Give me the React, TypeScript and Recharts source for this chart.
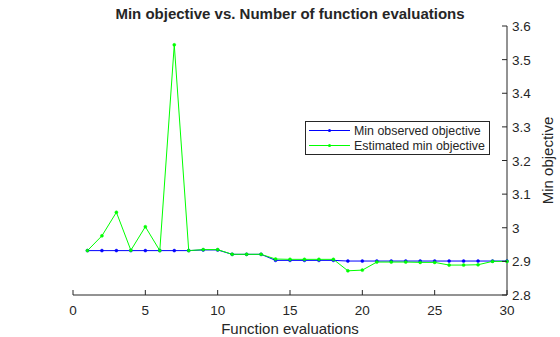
import { LineChart, Line, XAxis, YAxis, Legend } from 'recharts';

// Function evaluation index
const evals = [1, 2, 3, 4, 5, 6, 7, 8, 9, 10, 11, 12, 13, 14, 15, 16, 17, 18, 19, 20, 21, 22, 23, 24, 25, 26, 27, 28, 29, 30];

// Min observed objective (blue)
const minObserved = [
  2.932, 2.932, 2.932, 2.932, 2.932, 2.932, 2.932, 2.932, 2.934, 2.934,
  2.921, 2.921, 2.921, 2.903, 2.903, 2.903, 2.903, 2.903, 2.901, 2.901,
  2.901, 2.901, 2.901, 2.901, 2.901, 2.901, 2.901, 2.901, 2.901, 2.901,
];

// Estimated min objective (green)
const estimatedMin = [
  2.932, 2.976, 3.046, 2.933, 3.003, 2.932, 3.544, 2.932, 2.935, 2.935,
  2.921, 2.921, 2.921, 2.907, 2.906, 2.906, 2.906, 2.906, 2.872, 2.874,
  2.898, 2.898, 2.898, 2.897, 2.897, 2.889, 2.889, 2.890, 2.900, 2.900,
];

const seriesNames = ['Min observed objective', 'Estimated min objective'];
const xTicks = [0, 5, 10, 15, 20, 25, 30];
const yTicks = [2.8, 2.9, 3.0, 3.1, 3.2, 3.3, 3.4, 3.5, 3.6];

const data = evals.map((n, i) => ({ n, observed: minObserved[i], estimated: estimatedMin[i] }));

const FONT = '"Liberation Sans", Arial, sans-serif';
const INK = '#262626';

const XTick = (props: any) => {
  const { x, y, payload } = props;
  return (
    <g>
      <line x1={x} y1={y} x2={x} y2={y - 5} stroke={INK} strokeWidth={1} />
      <text x={x} y={y + 20} textAnchor="middle" fontSize={13.5} fill={INK} fontFamily={FONT}>
        {payload.value}
      </text>
    </g>
  );
};

const YTick = (props: any) => {
  const { x, y, payload } = props;
  return (
    <g>
      <line x1={x} y1={y} x2={x - 5} y2={y} stroke={INK} strokeWidth={1} />
      <text x={x + 5} y={y + 5} textAnchor="start" fontSize={13.5} fill={INK} fontFamily={FONT}>
        {String(Number(payload.value.toFixed(1)))}
      </text>
    </g>
  );
};

const LegendBox = (props: any) => {
  const items = [...(props.payload || [])].sort(
    (a: any, b: any) => seriesNames.indexOf(a.value) - seriesNames.indexOf(b.value)
  );
  return (
    <div
      style={{
        border: '1px solid #262626',
        background: '#fff',
        width: 183,
        height: 31,
        boxSizing: 'content-box',
        fontFamily: FONT,
        fontSize: 12.4,
        color: INK,
        paddingTop: 1,
        textAlign: 'left',
      }}
    >
      {items.map((p: any) => (
        <div key={p.value} style={{ display: 'flex', alignItems: 'center', height: 15 }}>
          <svg width={48} height={15}>
            <line x1={3} y1={7.5} x2={44} y2={7.5} stroke={p.color} strokeWidth={1} />
            <circle cx={23.5} cy={7.5} r={1.5} fill={p.color} />
          </svg>
          <span>{p.value}</span>
        </div>
      ))}
    </div>
  );
};

export default function App() {
  return (
    <div style={{ position: 'absolute', left: 0, top: 0, width: 560, height: 337, background: '#fff' }}>
      <svg width={560} height={30} style={{ position: 'absolute', left: 0, top: 0 }}>
        <text x={290} y={19} textAnchor="middle" fontSize={15} fontWeight="bold" fill={INK} fontFamily={FONT}>
          Min objective vs. Number of function evaluations
        </text>
      </svg>
      <div style={{ position: 'absolute', left: 0, top: 0 }}>
        <LineChart width={560} height={337} data={data} margin={{ top: 26, right: 0, bottom: 0, left: 73 }}>
          <XAxis
            dataKey="n"
            type="number"
            domain={[0, 30]}
            ticks={xTicks}
            height={42}
            tickSize={0}
            tickMargin={0}
            tickLine={false}
            tick={<XTick />}
            stroke={INK}
            interval={0}
            label={{ value: 'Function evaluations', position: 'insideBottom', offset: 3, fontSize: 15, fill: INK, fontFamily: FONT }}
          />
          <YAxis
            orientation="right"
            type="number"
            domain={[2.8, 3.6]}
            ticks={yTicks}
            width={53}
            tickSize={0}
            tickMargin={0}
            tickLine={false}
            tick={<YTick />}
            stroke={INK}
            interval={0}
            allowDataOverflow
            label={{
              content: (p: any) => {
                const vb = p.viewBox;
                const cx = vb.x + 46;
                const cy = vb.y + vb.height / 2;
                return (
                  <text x={cx} y={cy} transform={`rotate(-90 ${cx} ${cy})`} textAnchor="middle" fontSize={15} fill={INK} fontFamily={FONT}>
                    Min objective
                  </text>
                );
              },
            }}
          />
          <Legend
            layout="horizontal"
            verticalAlign="middle"
            align="center"
            wrapperStyle={{ position: 'absolute', left: 305, top: 121, width: 185 }}
            content={<LegendBox />}
          />
          <Line
            dataKey="observed"
            name={seriesNames[0]}
            stroke="#0000ff"
            strokeWidth={1}
            dot={{ r: 1.5, fill: '#0000ff', stroke: '#0000ff', strokeWidth: 0.5 }}
            activeDot={false}
            isAnimationActive={false}
          />
          <Line
            dataKey="estimated"
            name={seriesNames[1]}
            stroke="#00ff00"
            strokeWidth={1}
            dot={{ r: 1.5, fill: '#00ff00', stroke: '#00ff00', strokeWidth: 0.5 }}
            activeDot={false}
            isAnimationActive={false}
          />
        </LineChart>
      </div>
    </div>
  );
}
